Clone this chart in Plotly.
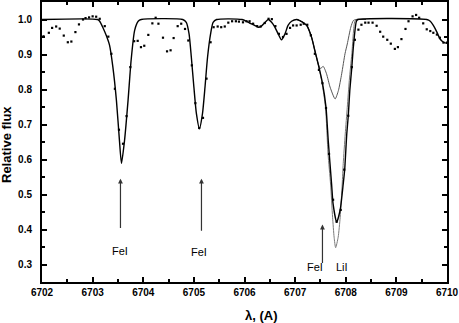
import plotly.graph_objects as go

# observed spectrum (dots)
obs_x = [6702.03, 6702.135, 6702.20, 6702.28, 6702.35, 6702.43, 6702.51, 6702.58, 6702.66, 6702.73,
         6702.81, 6702.86, 6702.93, 6703.00, 6703.07, 6703.14, 6703.24, 6703.31, 6703.37, 6703.44,
         6703.52, 6703.60, 6703.67, 6703.745, 6703.82, 6703.89, 6703.955, 6704.02, 6704.10, 6704.18,
         6704.245, 6704.30, 6704.39, 6704.47, 6704.54, 6704.60, 6704.68, 6704.75, 6704.825, 6704.89,
         6704.96, 6705.03, 6705.105, 6705.18, 6705.25, 6705.33, 6705.39, 6705.47, 6705.54, 6705.61,
         6705.68, 6705.755, 6705.83, 6705.89, 6705.97, 6706.04, 6706.10, 6706.17, 6706.25, 6706.32,
         6706.40, 6706.475, 6706.54, 6706.61, 6706.68, 6706.76, 6706.83, 6706.90, 6706.96, 6707.03,
         6707.11, 6707.17, 6707.24, 6707.31, 6707.39, 6707.47, 6707.54, 6707.61, 6707.67, 6707.75,
         6707.82, 6707.90, 6707.97, 6708.05, 6708.12, 6708.18, 6708.25, 6708.31, 6708.385, 6708.45,
         6708.53, 6708.61, 6708.68, 6708.74, 6708.82, 6708.89, 6708.97, 6709.03, 6709.10, 6709.18,
         6709.24, 6709.32, 6709.39, 6709.45, 6709.53, 6709.60, 6709.67, 6709.73, 6709.80, 6709.86,
         6709.93, 6710.0]
obs_y = [0.952, 0.962, 0.976, 0.980, 0.974, 0.954, 0.935, 0.937, 0.964, 0.986,
         1.000, 1.004, 1.006, 1.009, 1.008, 1.002, 0.981, 0.951, 0.902, 0.802,
         0.685, 0.645, 0.724, 0.864, 0.938, 0.939, 0.921, 0.925, 0.956, 0.989,
         1.005, 0.988, 0.948, 0.909, 0.912, 0.947, 0.981, 0.988, 0.973, 0.940,
         0.869, 0.761, 0.690, 0.719, 0.831, 0.935, 0.978, 0.980, 0.978, 0.980,
         0.991, 0.995, 0.995, 0.994, 0.992, 0.995, 0.995, 0.988, 0.981, 0.980,
         0.990, 1.002, 1.001, 0.981, 0.959, 0.950, 0.959, 0.976, 0.983, 0.983,
         0.985, 0.988, 0.985, 0.955, 0.902, 0.856, 0.818, 0.747, 0.616, 0.485,
         0.422, 0.456, 0.571, 0.725, 0.864, 0.942, 0.971, 0.985, 0.991, 0.991,
         0.991, 0.982, 0.965, 0.951, 0.942, 0.931, 0.916, 0.921, 0.944, 0.973,
         0.995, 1.009, 1.013, 1.005, 0.989, 0.972, 0.967, 0.962, 0.957, 0.948,
         0.934, 0.934]

# best-fit synthetic spectrum (black)
fit_x = [6702.0, 6703.10, 6703.14, 6703.20, 6703.27, 6703.335, 6703.40, 6703.47, 6703.53, 6703.57,
         6703.63, 6703.70, 6703.76, 6703.83, 6703.90, 6703.96, 6704.78, 6704.85, 6704.905, 6704.95,
         6705.00, 6705.05, 6705.11, 6705.17, 6705.22, 6705.27, 6705.33, 6705.38, 6705.45, 6705.95,
         6706.10, 6706.20, 6706.27, 6706.34, 6706.40, 6706.47, 6706.535, 6706.60, 6706.665, 6706.73,
         6706.80, 6706.86, 6706.93, 6707.03, 6707.09, 6707.23, 6707.325, 6707.39, 6707.455, 6707.54,
         6707.61, 6707.654, 6707.72, 6707.75, 6707.82, 6707.89, 6707.95, 6707.98, 6708.02, 6708.05,
         6708.08, 6708.12, 6708.15, 6708.21, 6708.24, 6709.60, 6709.67, 6709.73, 6709.80, 6709.86,
         6709.93, 6710.0]
fit_y = [1.0, 1.0, 0.995, 0.978, 0.954, 0.926, 0.864, 0.769, 0.654, 0.589,
         0.654, 0.769, 0.883, 0.969, 0.995, 1.0, 1.0, 0.992, 0.959, 0.892,
         0.807, 0.731, 0.688, 0.731, 0.807, 0.892, 0.959, 0.992, 1.0, 1.0,
         0.990, 0.983, 0.978, 0.982, 0.991, 1.0, 0.992, 0.978, 0.959, 0.942,
         0.959, 0.983, 0.995, 1.0, 0.997, 0.983, 0.949, 0.911, 0.873, 0.818,
         0.749, 0.654, 0.530, 0.473, 0.421, 0.456, 0.530, 0.573, 0.673, 0.725,
         0.797, 0.864, 0.921, 0.995, 1.0, 1.0, 0.995, 0.983, 0.964, 0.945,
         0.935, 0.932]

# higher Li abundance (gray, deep)
deep_x = [6707.03, 6707.09, 6707.23, 6707.325, 6707.39, 6707.455, 6707.53, 6707.60, 6707.65, 6707.70,
          6707.74, 6707.77, 6707.80, 6707.85, 6707.89, 6707.93, 6707.95, 6707.99, 6708.03, 6708.07,
          6708.12, 6708.18, 6708.22, 6708.40]
deep_y = [1.0, 0.997, 0.983, 0.949, 0.911, 0.873, 0.820, 0.749, 0.616, 0.530,
          0.435, 0.378, 0.348, 0.378, 0.435, 0.530, 0.588, 0.673, 0.749, 0.826,
          0.902, 0.995, 1.0, 1.0]

# lower Li abundance (gray, with FeI shoulder)
low_x = [6707.03, 6707.09, 6707.23, 6707.325, 6707.39, 6707.455, 6707.50, 6707.555, 6707.62, 6707.69,
         6707.79, 6707.855, 6707.92, 6707.985, 6708.03, 6708.10, 6708.15, 6708.20, 6708.40]
low_y = [1.0, 0.997, 0.983, 0.949, 0.911, 0.873, 0.860, 0.866, 0.845, 0.807,
         0.773, 0.797, 0.845, 0.902, 0.930, 0.978, 0.997, 1.0, 1.0]

# line identifications
line_x = [6703.55, 6705.15, 6707.54]
arrow_top = [0.545, 0.545, 0.414]
arrow_bot = [0.40, 0.392, 0.30]
label_x = [6703.55, 6705.10, 6707.39, 6707.92]
label_y = [0.34, 0.335, 0.292, 0.292]
labels = ["FeI", "FeI", "FeI", "LiI"]

x_ticks = [6702, 6703, 6704, 6705, 6706, 6707, 6708, 6709, 6710]
y_ticks = [0.3, 0.4, 0.5, 0.6, 0.7, 0.8, 0.9, 1.0]

fig = go.Figure()

fig.add_trace(go.Scatter(x=deep_x, y=deep_y, mode="lines",
                         line=dict(color="#7a7a7a", width=1, shape="spline", smoothing=0.6)))
fig.add_trace(go.Scatter(x=low_x, y=low_y, mode="lines",
                         line=dict(color="#555555", width=1, shape="spline", smoothing=0.6)))
fig.add_trace(go.Scatter(x=fit_x, y=fit_y, mode="lines",
                         line=dict(color="black", width=1.4, shape="spline", smoothing=0.6)))
fig.add_trace(go.Scatter(x=obs_x, y=obs_y, mode="markers",
                         marker=dict(symbol="square", size=2.2, color="black", line=dict(width=0))))

for x, y1, y0 in zip(line_x, arrow_top, arrow_bot):
    fig.add_annotation(x=x, y=y1, ax=x, ay=y0, xref="x", yref="y", axref="x", ayref="y",
                       showarrow=True, arrowhead=2, arrowsize=0.8, arrowwidth=1.2,
                       arrowcolor="#333333", text="")

for x, y, t in zip(label_x, label_y, labels):
    fig.add_annotation(x=x, y=y, xref="x", yref="y", text=t, showarrow=False,
                       font=dict(family="Liberation Sans, Arial", size=11, color="black"))

# axis titles placed in pixel terms relative to the plot area (42..447, 2..282)
fig.add_annotation(x=(6 - 42) / 405, y=1 - (145 - 2) / 280, xref="paper", yref="paper",
                   xanchor="center", yanchor="middle",
                   text="<b>Relative flux</b>", textangle=-90, showarrow=False,
                   font=dict(family="Liberation Sans, Arial", size=13, color="black"))
fig.add_annotation(x=(261 - 42) / 405, y=-(315 - 282) / 280, xref="paper", yref="paper",
                   xanchor="center", yanchor="middle",
                   text="<b>λ, (A)</b>", showarrow=False,
                   font=dict(family="Liberation Sans, Arial", size=13, color="black"))

axis_common = dict(showline=True, linewidth=2, linecolor="black", mirror="ticks",
                   ticks="inside", ticklen=5, tickwidth=1.5, tickcolor="black",
                   showgrid=False, zeroline=False, automargin=False,
                   tickfont=dict(family="Liberation Sans, Arial", size=10, color="black", weight="bold"))

fig.update_xaxes(range=[6702, 6710], tickvals=x_ticks, ticktext=[str(v) for v in x_ticks],
                 minor=dict(ticks="inside", ticklen=3, tickwidth=1.5, tickcolor="black", dtick=0.5),
                 **axis_common)
fig.update_yaxes(range=[0.25, 1.05], tickvals=y_ticks, ticktext=[f"{v:.1f}" for v in y_ticks],
                 minor=dict(ticks="inside", ticklen=3, tickwidth=1.5, tickcolor="black",
                            tick0=0.25, dtick=0.05),
                 ticklabelstandoff=6, **axis_common)

fig.update_layout(width=459, height=323, margin=dict(l=42, r=12, t=2, b=41),
                  plot_bgcolor="white", paper_bgcolor="white", showlegend=False)

# drop the browser's default body margin so the figure sits at the page corner
fig.write_html("out.html", config={"displayModeBar": False},
               post_script="document.body.style.margin='0';")
